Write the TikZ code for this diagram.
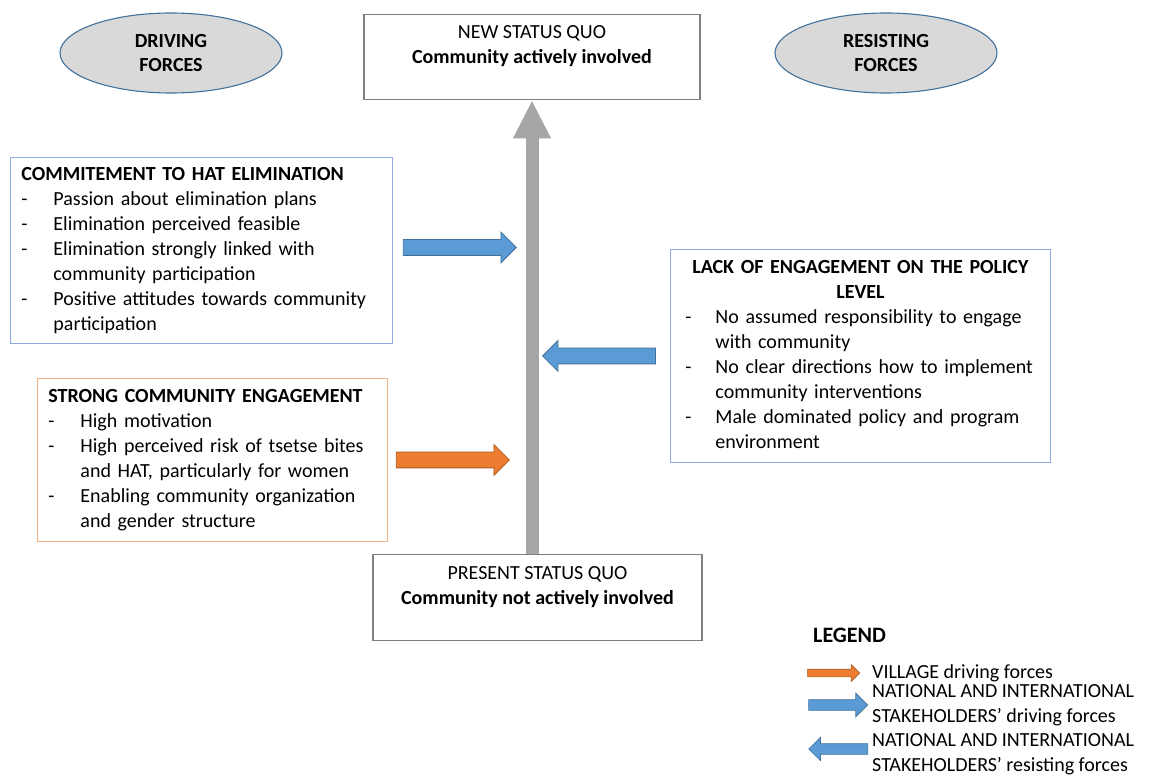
\documentclass[tikz,border=0pt]{standalone}
\usepackage{fontspec}
\setmainfont{Carlito}
\usepackage{array}
\usetikzlibrary{arrows.meta,positioning,shapes.geometric,shapes.arrows}

\definecolor{fgblue}{HTML}{5B9BD5}
\definecolor{fgblueline}{HTML}{41719C}
\definecolor{fgorange}{HTML}{ED7D31}
\definecolor{fgorangeline}{HTML}{AE5A21}
\definecolor{fggrey}{HTML}{A6A6A6}
\definecolor{ovalfill}{HTML}{D9D9D9}
\definecolor{boxblue}{HTML}{8FAADC}
\definecolor{boxorange}{HTML}{F4B183}
\definecolor{boxgrey}{HTML}{7F7F7F}

\newcommand{\bodysize}{\fontsize{20}{25}\selectfont}

\tikzset{
  forceoval/.style={ellipse, draw=fgblueline, line width=1.1pt, fill=ovalfill,
    minimum width=222pt, minimum height=80pt, align=center,
    font=\fontsize{20}{23.5}\selectfont\bfseries},
  sqbox/.style={draw=boxgrey, line width=1.1pt, anchor=north, align=center,
    font=\bodysize},
  forcebox/.style={draw=#1, line width=0.9pt, inner ysep=0pt, anchor=north west,
    align=left, font=\bodysize},
  blockarrow/.style={single arrow, draw=#1line, fill=#1, line width=0.8pt,
    inner xsep=0pt, inner ysep=7.5pt, single arrow head extend=7.5pt,
    minimum height=113pt},
  legendarrow/.style={single arrow, draw=#1line, fill=#1, line width=0.6pt,
    inner xsep=0pt},
  legendlbl/.style={anchor=west, align=left, inner sep=0pt, font=\bodysize},
  statusarrow/.style={draw=fggrey, line width=13pt,
    -{Triangle[width=35pt,length=38pt]}}
}

\begin{document}
\begin{tikzpicture}[x=1pt,y=-1pt]
  % background and picture size
  \fill[white] (0,0) rectangle (1151,781);
  \useasboundingbox (0,0) rectangle (1151,781);

  % draw the two headings
  \node[forceoval] (driving) at (171,53) {DRIVING\\FORCES};
  \node[forceoval] (resisting) at (886,53) {RESISTING\\FORCES};

  % draw status quo boxes
  \node[sqbox, minimum width=336pt, minimum height=85pt] (newsq) at (532,14)
    {\rule{0pt}{21pt}NEW STATUS QUO\\\textbf{Community actively involved}\\\strut};
  \node[sqbox, minimum width=329pt, minimum height=86pt] (presentsq) at (537.5,554)
    {\rule{0pt}{21pt}PRESENT STATUS QUO\\\textbf{Community not actively involved}\\\strut};

  % draw the change arrow
  \draw[statusarrow] (newsq.south |- presentsq.north) -- (newsq.south);

  % draw force boxes
  \node[forcebox=boxblue, text width=360pt, inner xsep=11pt, minimum height=186pt]
    (commit) at (10,157) {%
    \begin{tabular}{@{}p{32pt}@{}l@{}}
      \multicolumn{2}{@{}l@{}}{\textbf{COMMITEMENT TO HAT ELIMINATION}}\\
      - & Passion about elimination plans\\
      - & Elimination perceived feasible\\
      - & Elimination strongly linked with\\
        & community participation\\
      - & Positive attitudes towards community\\
        & participation
    \end{tabular}};
  \node[forcebox=boxorange, text width=328pt, inner xsep=11pt, minimum height=163pt]
    (village) at (37,378) {%
    \begin{tabular}{@{}p{32pt}@{}l@{}}
      \multicolumn{2}{@{}l@{}}{\textbf{STRONG COMMUNITY ENGAGEMENT}}\\
      - & High motivation\\
      - & High perceived risk of tsetse bites\\
        & and HAT, particularly for women\\
      - & Enabling community organization\\
        & and gender structure
    \end{tabular}};
  \node[forcebox=boxblue, text width=350pt, inner xsep=15pt, minimum height=213pt]
    (policy) at (670,249) {%
    \begin{tabular}{@{}p{30pt}@{}p{320pt}@{}}
      \multicolumn{2}{@{}c@{}}{\textbf{LACK OF ENGAGEMENT ON THE POLICY}}\\
      \multicolumn{2}{@{}c@{}}{\textbf{LEVEL}}\\
      - & No assumed responsibility to engage\\
        & with community\\
      - & No clear directions how to implement\\
        & community interventions\\
      - & Male dominated policy and program\\
        & environment
    \end{tabular}};

  % draw force arrows
  \node[blockarrow=fgblue, right=10pt of commit, yshift=3pt] (commitarrow) {};
  \node[blockarrow=fgorange, right=8pt of village] (villagearrow) {};
  \node[blockarrow=fgblue, shape border rotate=180, left=14pt of policy] (policyarrow) {};

  % draw legend
  \node[anchor=west, inner sep=0pt, font=\fontsize{22}{26}\selectfont\bfseries]
    (legendttl) at (813,635) {LEGEND};
  \node[legendlbl] (lgvillage) at (872,673) {VILLAGE driving forces};
  \node[legendlbl] (lgnatdrive) at (872,705)
    {NATIONAL AND INTERNATIONAL\\STAKEHOLDERS’ driving forces};
  \node[legendlbl] (lgnatresist) at (872,754)
    {NATIONAL AND INTERNATIONAL\\STAKEHOLDERS’ resisting forces};
  \node[legendarrow=fgorange, inner ysep=3.5pt, minimum height=52pt,
    single arrow head extend=4.5pt, left=12pt of lgvillage] (lgvillagearrow) {};
  \node[legendarrow=fgblue, inner ysep=5pt, minimum height=59pt,
    single arrow head extend=6.5pt, left=4pt of lgnatdrive] (lgnatdrivearrow) {};
  \node[legendarrow=fgblue, inner ysep=5pt, minimum height=59pt,
    single arrow head extend=6.5pt, shape border rotate=180,
    left=4pt of lgnatresist, yshift=5pt] (lgnatresistarrow) {};
\end{tikzpicture}
\end{document}
